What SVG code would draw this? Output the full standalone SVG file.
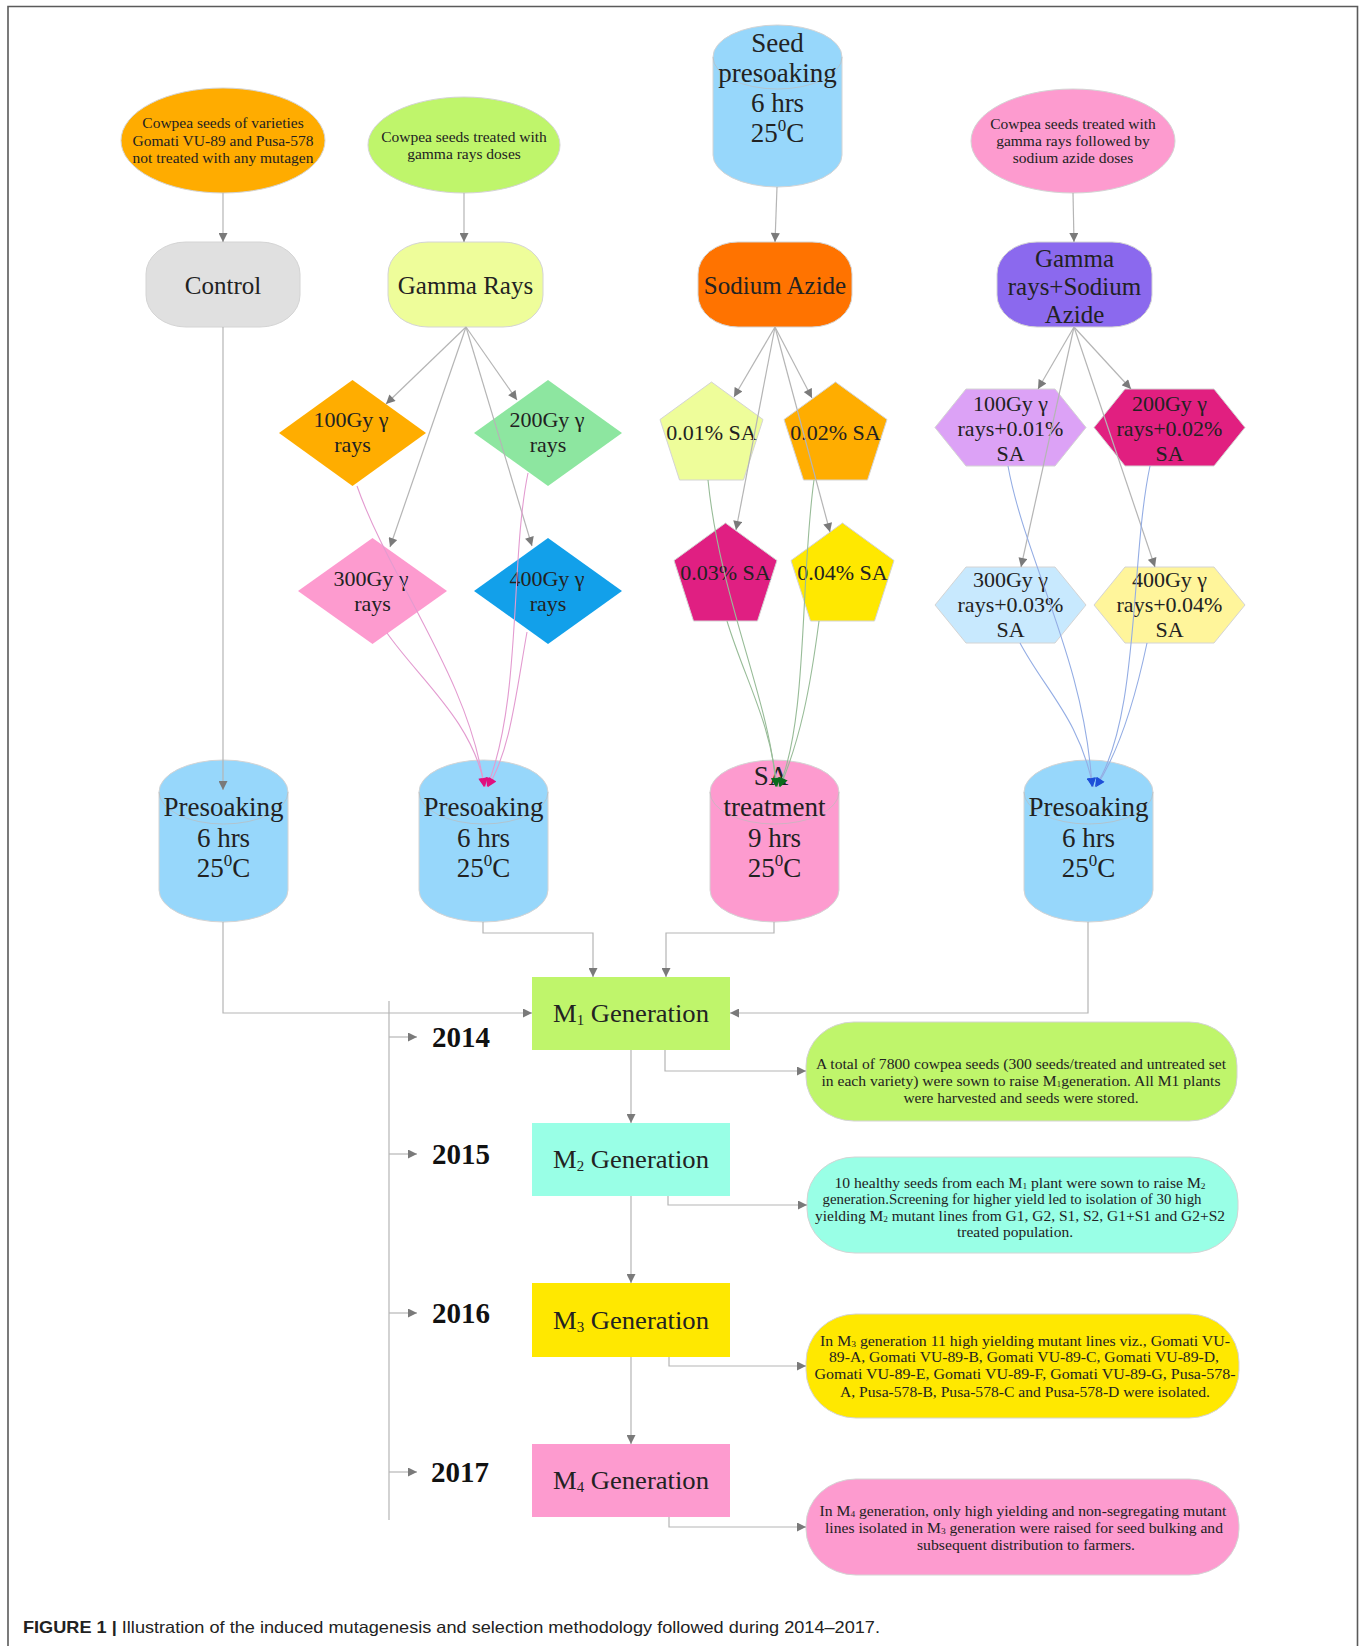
<svg xmlns="http://www.w3.org/2000/svg" width="1363" height="1646" viewBox="0 0 1363 1646">
<style>
.n{stroke:#d4d4d4;stroke-width:1}
.t{font-family:"Liberation Serif","Times New Roman",serif;fill:#222;text-anchor:middle}
.s15{font-size:15.5px}.s16{font-size:15px}.s22{font-size:22px}.s25{font-size:25px}.s27{font-size:27px}
.yr{font-family:"Liberation Serif","Times New Roman",serif;font-weight:bold;font-size:29px;fill:#111;text-anchor:middle}
.e{fill:none;stroke:#b5b5b5;stroke-width:1.2}
.ep{fill:none;stroke:#e39bd0;stroke-width:1.1}
.eg{fill:none;stroke:#98bc98;stroke-width:1.1}
.eb{fill:none;stroke:#94ade4;stroke-width:1.1}
.cap{fill:none;stroke:#bcbcbc;stroke-width:1;opacity:0.7}
</style>
<defs>
<marker id="ag" viewBox="0 0 10 10" refX="10" refY="5" markerWidth="10" markerHeight="9" markerUnits="userSpaceOnUse" orient="auto"><path d="M0,0 L10,5 L0,10 z" fill="#7a7a7a"/></marker>
<marker id="am" viewBox="0 0 10 10" refX="10" refY="5" markerWidth="10" markerHeight="9" markerUnits="userSpaceOnUse" orient="auto"><path d="M0,0 L10,5 L0,10 z" fill="#e0107e"/></marker>
<marker id="agr" viewBox="0 0 10 10" refX="10" refY="5" markerWidth="10" markerHeight="9" markerUnits="userSpaceOnUse" orient="auto"><path d="M0,0 L10,5 L0,10 z" fill="#0b6b1c"/></marker>
<marker id="ab" viewBox="0 0 10 10" refX="10" refY="5" markerWidth="10" markerHeight="9" markerUnits="userSpaceOnUse" orient="auto"><path d="M0,0 L10,5 L0,10 z" fill="#1e4fd8"/></marker>
</defs>
<rect width="1363" height="1646" fill="#ffffff"/>
<path d="M8,1646 V6.5 H1357.5 V1646" fill="none" stroke="#5a5a5a" stroke-width="1.6"/>

<!-- top row -->
<g id="n_control_src">
<ellipse class="n" cx="223" cy="140.5" rx="102" ry="52.5" fill="#ffac00"/>
<text class="t s15" x="223" y="128">Cowpea seeds of varieties</text>
<text class="t s15" x="223" y="146">Gomati VU-89 and Pusa-578</text>
<text class="t s15" x="223" y="163">not treated with any mutagen</text>
</g>
<g id="n_gamma_src">
<ellipse class="n" cx="464" cy="145" rx="96" ry="48" fill="#bff56b"/>
<text class="t s15" x="464" y="142">Cowpea seeds treated with</text>
<text class="t s15" x="464" y="159">gamma rays doses</text>
</g>
<g id="n_seed_presoak">
<path class="n" d="M713,57 A64.5,32 0 0 1 842,57 V155 A64.5,32 0 0 1 713,155 Z" fill="#97d7fb"/>
<path class="cap" d="M713,57 A64.5,32 0 0 0 842,57"/>
<text class="t s27" x="777.5" y="52">Seed</text>
<text class="t s27" x="777.5" y="82">presoaking</text>
<text class="t s27" x="777.5" y="112">6 hrs</text>
<text class="t s27" x="777.5" y="142">25<tspan font-size="17" dy="-11">0</tspan><tspan dy="11">C</tspan></text>
</g>
<g id="n_gsa_src">
<ellipse class="n" cx="1073" cy="141" rx="102" ry="52" fill="#fd9bcf"/>
<text class="t s15" x="1073" y="129">Cowpea seeds treated with</text>
<text class="t s15" x="1073" y="146">gamma rays followed by</text>
<text class="t s15" x="1073" y="163">sodium azide doses</text>
</g>

<!-- second row -->
<g id="n_control">
<rect class="n" x="146" y="242" width="154" height="85" rx="40" ry="32" fill="#e0e0e0"/>
<text class="t s25" x="223" y="294">Control</text>
</g>
<g id="n_gamma">
<rect class="n" x="388" y="242" width="155" height="85" rx="40" ry="32" fill="#eefd9a"/>
<text class="t s25" x="465.5" y="294">Gamma Rays</text>
</g>
<g id="n_sa">
<rect class="n" x="698" y="242" width="154" height="85" rx="40" ry="32" fill="#ff7300"/>
<text class="t s25" x="775" y="294">Sodium Azide</text>
</g>
<g id="n_gsa">
<rect class="n" x="997" y="242" width="155" height="85" rx="40" ry="32" fill="#8b69ee"/>
<text class="t s25" x="1074.5" y="267">Gamma</text>
<text class="t s25" x="1074.5" y="295">rays+Sodium</text>
<text class="t s25" x="1074.5" y="323">Azide</text>
</g>

<!-- diamonds -->
<g id="n_g100">
<polygon points="352.5,380 426,433 352.5,486 279,433" fill="#ffad00"/>
<text class="t s22" x="351" y="427">100Gy γ</text>
<text class="t s22" x="352.5" y="452">rays</text>
</g>
<g id="n_g200">
<polygon points="548,380 622,433 548,486 474,433" fill="#8de6a0"/>
<text class="t s22" x="547" y="427">200Gy γ</text>
<text class="t s22" x="548" y="452">rays</text>
</g>
<g id="n_g300">
<polygon points="372.5,538 447,591 372.5,644 298,591" fill="#fd9bcf"/>
<text class="t s22" x="371" y="586">300Gy γ</text>
<text class="t s22" x="372.5" y="611">rays</text>
</g>
<g id="n_g400">
<polygon points="548,538 622,591 548,644 474,591" fill="#12a0ea"/>
<text class="t s22" x="547" y="586">400Gy γ</text>
<text class="t s22" x="548" y="611">rays</text>
</g>

<!-- pentagons -->
<g id="n_sa01">
<polygon class="n" points="711.5,382 763,419.5 743.5,480 679.5,480 660,419.5" fill="#eefd9a"/>
<text class="t s22" x="711.5" y="440">0.01% SA</text>
</g>
<g id="n_sa02">
<polygon class="n" points="835.5,382 887,419.5 867.5,480 803.5,480 784,419.5" fill="#ffad00"/>
<text class="t s22" x="835.5" y="440">0.02% SA</text>
</g>
<g id="n_sa03">
<polygon class="n" points="725.5,523 777,560.5 757.5,621 693.5,621 674,560.5" fill="#e01f82"/>
<text class="t s22" x="725.5" y="580">0.03% SA</text>
</g>
<g id="n_sa04">
<polygon class="n" points="842.5,523 894,560.5 874.5,621 810.5,621 791,560.5" fill="#ffe800"/>
<text class="t s22" x="842.5" y="580">0.04% SA</text>
</g>

<!-- hexagons -->
<g id="n_gs1">
<polygon class="n" points="935,427.5 966,389 1055,389 1086,427.5 1055,466 966,466" fill="#dca2f6"/>
<text class="t s22" x="1010.5" y="411">100Gy γ</text>
<text class="t s22" x="1010.5" y="436">rays+0.01%</text>
<text class="t s22" x="1010.5" y="461">SA</text>
</g>
<g id="n_gs2">
<polygon class="n" points="1094,427.5 1125,389 1214,389 1245,427.5 1214,466 1125,466" fill="#e11f80"/>
<text class="t s22" x="1169.5" y="411">200Gy γ</text>
<text class="t s22" x="1169.5" y="436">rays+0.02%</text>
<text class="t s22" x="1169.5" y="461">SA</text>
</g>
<g id="n_gs3">
<polygon class="n" points="935,605 966,567 1055,567 1086,605 1055,643 966,643" fill="#c8e9fe"/>
<text class="t s22" x="1010.5" y="587">300Gy γ</text>
<text class="t s22" x="1010.5" y="612">rays+0.03%</text>
<text class="t s22" x="1010.5" y="637">SA</text>
</g>
<g id="n_gs4">
<polygon class="n" points="1094,605 1125,567 1214,567 1245,605 1214,643 1125,643" fill="#fff59b"/>
<text class="t s22" x="1169.5" y="587">400Gy γ</text>
<text class="t s22" x="1169.5" y="612">rays+0.04%</text>
<text class="t s22" x="1169.5" y="637">SA</text>
</g>

<!-- cylinders -->
<g id="n_pre1">
<path class="n" d="M159,792 A64.5,32 0 0 1 288,792 V890 A64.5,32 0 0 1 159,890 Z" fill="#97d7fb"/>
<path class="cap" d="M159,792 A64.5,32 0 0 0 288,792"/>
<text class="t s27" x="223.5" y="816">Presoaking</text>
<text class="t s27" x="223.5" y="847">6 hrs</text>
<text class="t s27" x="223.5" y="877">25<tspan font-size="17" dy="-11">0</tspan><tspan dy="11">C</tspan></text>
</g>
<g id="n_pre2">
<path class="n" d="M419,792 A64.5,32 0 0 1 548,792 V890 A64.5,32 0 0 1 419,890 Z" fill="#97d7fb"/>
<path class="cap" d="M419,792 A64.5,32 0 0 0 548,792"/>
<text class="t s27" x="483.5" y="816">Presoaking</text>
<text class="t s27" x="483.5" y="847">6 hrs</text>
<text class="t s27" x="483.5" y="877">25<tspan font-size="17" dy="-11">0</tspan><tspan dy="11">C</tspan></text>
</g>
<g id="n_satreat">
<path class="n" d="M710,792 A64.5,32 0 0 1 839,792 V890 A64.5,32 0 0 1 710,890 Z" fill="#fd9bcf"/>
<path class="cap" d="M710,792 A64.5,32 0 0 0 839,792"/>
<text class="t s27" x="771" y="785">SA</text>
<text class="t s27" x="774.5" y="816">treatment</text>
<text class="t s27" x="774.5" y="847">9 hrs</text>
<text class="t s27" x="774.5" y="877">25<tspan font-size="17" dy="-11">0</tspan><tspan dy="11">C</tspan></text>
</g>
<g id="n_pre4">
<path class="n" d="M1024,792 A64.5,32 0 0 1 1153,792 V890 A64.5,32 0 0 1 1024,890 Z" fill="#97d7fb"/>
<path class="cap" d="M1024,792 A64.5,32 0 0 0 1153,792"/>
<text class="t s27" x="1088.5" y="816">Presoaking</text>
<text class="t s27" x="1088.5" y="847">6 hrs</text>
<text class="t s27" x="1088.5" y="877">25<tspan font-size="17" dy="-11">0</tspan><tspan dy="11">C</tspan></text>
</g>

<!-- generations -->
<g id="n_m1">
<rect x="532" y="977" width="198" height="73" fill="#bff56b"/>
<text class="t s25" x="631" y="1022" textLength="156" lengthAdjust="spacingAndGlyphs">M<tspan font-size="14" dy="3">1</tspan><tspan dy="-3"> Generation</tspan></text>
</g>
<g id="n_m2">
<rect x="532" y="1123" width="198" height="73" fill="#99ffe6"/>
<text class="t s25" x="631" y="1168" textLength="156" lengthAdjust="spacingAndGlyphs">M<tspan font-size="14" dy="3">2</tspan><tspan dy="-3"> Generation</tspan></text>
</g>
<g id="n_m3">
<rect x="532" y="1283" width="198" height="74" fill="#ffe800"/>
<text class="t s25" x="631" y="1329" textLength="156" lengthAdjust="spacingAndGlyphs">M<tspan font-size="14" dy="3">3</tspan><tspan dy="-3"> Generation</tspan></text>
</g>
<g id="n_m4">
<rect x="532" y="1444" width="198" height="73" fill="#fd9bcf"/>
<text class="t s25" x="631" y="1489" textLength="156" lengthAdjust="spacingAndGlyphs">M<tspan font-size="14" dy="3">4</tspan><tspan dy="-3"> Generation</tspan></text>
</g>

<!-- years -->
<g id="n_years">
<text class="yr" x="461" y="1047">2014</text>
<text class="yr" x="461" y="1164">2015</text>
<text class="yr" x="461" y="1323">2016</text>
<text class="yr" x="460" y="1482">2017</text>
</g>

<!-- description boxes -->
<g id="n_d1">
<rect class="n" x="806" y="1022" width="431" height="99" rx="48" ry="44" fill="#bff56b"/>
<text class="t s16" x="1021" y="1069" textLength="410" lengthAdjust="spacingAndGlyphs">A total of 7800 cowpea seeds (300 seeds/treated and untreated set</text>
<text class="t s16" x="1021" y="1086" textLength="399" lengthAdjust="spacingAndGlyphs">in each variety) were sown to raise M<tspan font-size="9" dy="1">1</tspan><tspan dy="-1">generation. All M1 plants</tspan></text>
<text class="t s16" x="1021" y="1103" textLength="235" lengthAdjust="spacingAndGlyphs">were harvested and seeds were stored.</text>
</g>
<g id="n_d2">
<rect class="n" x="807" y="1157" width="431" height="96" rx="48" ry="44" fill="#99ffe6"/>
<text class="t s16" x="1020" y="1188" textLength="371" lengthAdjust="spacingAndGlyphs">10 healthy seeds from each M<tspan font-size="9" dy="1">1</tspan><tspan dy="-1"> plant were sown to raise M</tspan><tspan font-size="9" dy="1">2</tspan></text>
<text class="t s16" x="1012" y="1204" textLength="379" lengthAdjust="spacingAndGlyphs">generation.Screening for higher yield led to isolation of 30 high</text>
<text class="t s16" x="1020" y="1221" textLength="410" lengthAdjust="spacingAndGlyphs">yielding M<tspan font-size="9" dy="1">2</tspan><tspan dy="-1"> mutant lines from G1, G2, S1, S2, G1+S1 and G2+S2</tspan></text>
<text class="t s16" x="1015" y="1237" textLength="116" lengthAdjust="spacingAndGlyphs">treated population.</text>
</g>
<g id="n_d3">
<rect class="n" x="806" y="1314" width="433" height="104" rx="50" ry="48" fill="#ffe800"/>
<text class="t s16" x="1025" y="1346" textLength="410" lengthAdjust="spacingAndGlyphs">In M<tspan font-size="9" dy="1">3</tspan><tspan dy="-1"> generation 11 high yielding  mutant lines viz., Gomati VU-</tspan></text>
<text class="t s16" x="1024" y="1362" textLength="390" lengthAdjust="spacingAndGlyphs">89-A, Gomati VU-89-B, Gomati VU-89-C, Gomati VU-89-D,</text>
<text class="t s16" x="1025" y="1379" textLength="421" lengthAdjust="spacingAndGlyphs">Gomati VU-89-E, Gomati VU-89-F, Gomati VU-89-G,  Pusa-578-</text>
<text class="t s16" x="1025" y="1397" textLength="370" lengthAdjust="spacingAndGlyphs">A, Pusa-578-B, Pusa-578-C and Pusa-578-D were isolated.</text>
</g>
<g id="n_d4">
<rect class="n" x="806" y="1479" width="433" height="96" rx="50" ry="46" fill="#fd9bcf"/>
<text class="t s16" x="1023" y="1516" textLength="407" lengthAdjust="spacingAndGlyphs">In M<tspan font-size="9" dy="1">4</tspan><tspan dy="-1"> generation, only high yielding and non-segregating mutant</tspan></text>
<text class="t s16" x="1024" y="1533" textLength="398" lengthAdjust="spacingAndGlyphs">lines isolated in M<tspan font-size="9" dy="1">3</tspan><tspan dy="-1"> generation were raised for seed bulking and</tspan></text>
<text class="t s16" x="1026" y="1550" textLength="218" lengthAdjust="spacingAndGlyphs">subsequent distribution to farmers.</text>
</g>

<!-- connectors -->
<g id="connectors">
<path class="e" d="M223,193 V242" marker-end="url(#ag)"/>
<path class="e" d="M464,193 V242" marker-end="url(#ag)"/>
<path class="e" d="M777,187 L775,242" marker-end="url(#ag)"/>
<path class="e" d="M1073,193 L1074,242" marker-end="url(#ag)"/>
<path class="e" d="M223,327 V790" marker-end="url(#ag)"/>
<path class="e" d="M466,327 L386,404" marker-end="url(#ag)"/>
<path class="e" d="M466,327 L517,400" marker-end="url(#ag)"/>
<path class="e" d="M466,327 L390,547" marker-end="url(#ag)"/>
<path class="e" d="M466,327 L532,546" marker-end="url(#ag)"/>
<path class="e" d="M775,327 L734,397" marker-end="url(#ag)"/>
<path class="e" d="M775,327 L812,398" marker-end="url(#ag)"/>
<path class="e" d="M775,327 L736,530" marker-end="url(#ag)"/>
<path class="e" d="M775,327 L830,532" marker-end="url(#ag)"/>
<path class="e" d="M1074,327 L1038,389" marker-end="url(#ag)"/>
<path class="e" d="M1074,327 L1131,389" marker-end="url(#ag)"/>
<path class="e" d="M1074,327 L1021,567" marker-end="url(#ag)"/>
<path class="e" d="M1074,327 L1155,567" marker-end="url(#ag)"/>
<path class="ep" d="M357,486 C390,580 470,680 484,787" marker-end="url(#am)"/>
<path class="ep" d="M387,633 C420,680 472,720 485,787" marker-end="url(#am)"/>
<path class="ep" d="M528,473 C510,560 522,700 487,787" marker-end="url(#am)"/>
<path class="ep" d="M527,632 C515,700 510,750 488,787" marker-end="url(#am)"/>
<path class="eg" d="M708,480 C720,600 770,700 776,787" marker-end="url(#agr)"/>
<path class="eg" d="M727,621 C745,680 770,720 777,787" marker-end="url(#agr)"/>
<path class="eg" d="M814,480 C800,580 808,720 779,787" marker-end="url(#agr)"/>
<path class="eg" d="M819,621 C810,690 800,740 780,787" marker-end="url(#agr)"/>
<path class="eb" d="M1008,466 C1025,560 1085,660 1092,787" marker-end="url(#ab)"/>
<path class="eb" d="M1020,643 C1045,690 1080,720 1093,787" marker-end="url(#ab)"/>
<path class="eb" d="M1150,466 C1130,560 1140,720 1095,787" marker-end="url(#ab)"/>
<path class="eb" d="M1147,643 C1135,700 1120,750 1096,787" marker-end="url(#ab)"/>
<path class="e" d="M223,922 V1013 H532" marker-end="url(#ag)"/>
<path class="e" d="M483,922 V933 H593 V977" marker-end="url(#ag)"/>
<path class="e" d="M774,922 V933 H666 V977" marker-end="url(#ag)"/>
<path class="e" d="M1088,922 V1013 H730" marker-end="url(#ag)"/>
<path class="e" d="M631,1050 V1123" marker-end="url(#ag)"/>
<path class="e" d="M631,1196 V1283" marker-end="url(#ag)"/>
<path class="e" d="M631,1357 V1444" marker-end="url(#ag)"/>
<path class="e" d="M665,1050 V1071 H806" marker-end="url(#ag)"/>
<path class="e" d="M668,1196 V1205 H807" marker-end="url(#ag)"/>
<path class="e" d="M669,1357 V1366 H806" marker-end="url(#ag)"/>
<path class="e" d="M669,1517 V1527 H806" marker-end="url(#ag)"/>
<path class="e" d="M389,1001 V1520"/>
<path class="e" d="M389,1037 H417" marker-end="url(#ag)"/>
<path class="e" d="M389,1154 H417" marker-end="url(#ag)"/>
<path class="e" d="M389,1313 H417" marker-end="url(#ag)"/>
<path class="e" d="M389,1472 H417" marker-end="url(#ag)"/>
</g>

<text x="23" y="1633" font-family="Liberation Sans, Arial, sans-serif" font-size="16.5" fill="#222" textLength="857" lengthAdjust="spacingAndGlyphs"><tspan font-weight="bold">FIGURE 1 |</tspan> Illustration of the induced mutagenesis and selection methodology followed during 2014–2017.</text>
</svg>
